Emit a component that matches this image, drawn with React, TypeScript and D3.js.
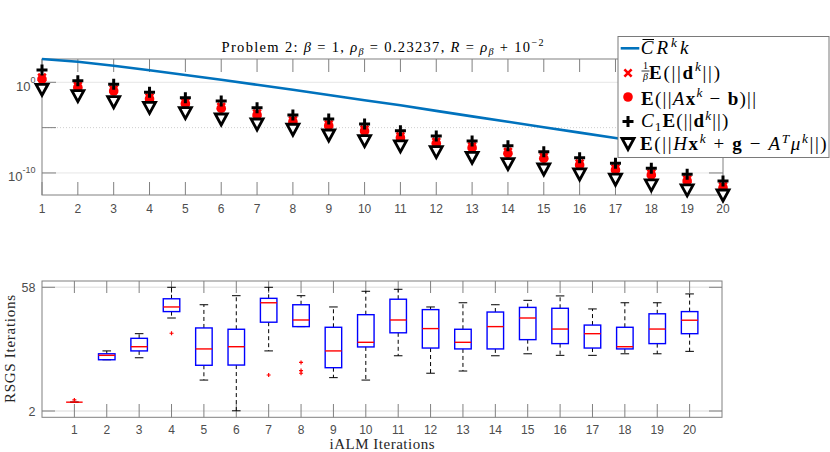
import React from "react";
import { scaleLinear, scaleLog, line } from "d3";

// iterations k
const iters = [1, 2, 3, 4, 5, 6, 7, 8, 9, 10, 11, 12, 13, 14, 15, 16, 17, 18, 19, 20];

// top panel, values given as log10
const crkLog = [2.57, 2.26, 1.82, 1.33, 0.81, 0.28, -0.27, -0.83, -1.4, -1.97, -2.54, -3.15, -3.76, -4.35, -4.95, -5.55, -6.14, -6.74, -7.34, -7.94];
const dScaledLog = [0.36, -0.55, -0.96, -1.84, -2.36, -2.87, -3.6, -4.34, -4.78, -5.37, -6.11, -6.73, -7.21, -7.83, -8.38, -9.12, -9.67, -10.22, -10.88, -11.62];
const residLog = [0.36, -0.55, -0.96, -1.84, -2.36, -2.87, -3.6, -4.34, -4.78, -5.37, -6.11, -6.73, -7.21, -7.83, -8.38, -9.12, -9.67, -10.22, -10.88, -11.62];
const c1dLog = [1.36, 0.18, -0.22, -1.1, -1.7, -2.06, -2.8, -3.61, -4.05, -4.6, -5.34, -5.92, -6.47, -6.99, -7.65, -8.31, -8.93, -9.48, -10.14, -10.88];
const kktLog = [-0.77, -1.47, -2.14, -2.76, -3.35, -4.05, -4.6, -5.18, -5.81, -6.44, -7.02, -7.65, -8.27, -8.97, -9.56, -10.11, -10.69, -11.32, -11.87, -12.43];
const topYTicks = [0, -5, -10];
const topYLabels = ["0", "", "-10"];

// bottom panel, RSGS iterations box statistics
const boxLow = [6, 25.2, 26.1, 44.1, 16.0, 2.1, 29.2, 40.2, 17.1, 16.0, 27.0, 19.1, 20.1, 27.0, 27.9, 27.2, 27.2, 27.9, 27.9, 29.0];
const boxQ1 = [6, 25.2, 29.2, 47.0, 22.7, 22.8, 42.2, 40.2, 21.6, 31.0, 37.4, 30.5, 30.1, 30.1, 34.3, 32.5, 30.5, 30.1, 32.5, 37.0];
const boxMed = [6, 27.2, 31.1, 49.1, 30.1, 31.1, 51.0, 43.2, 29.2, 33.1, 43.2, 39.3, 33.1, 40.2, 44.1, 39.1, 37.0, 31.1, 39.1, 43.1];
const boxQ3 = [6, 27.9, 34.9, 52.8, 39.6, 39.0, 53.0, 50.1, 39.9, 45.6, 52.6, 47.9, 39.0, 46.8, 48.9, 48.5, 40.9, 39.9, 46.0, 47.0];
const boxHigh = [6, 29.2, 37.0, 58.0, 50.1, 54.2, 58.0, 54.2, 49.1, 56.2, 57.1, 49.1, 51.0, 50.1, 52.1, 54.1, 48.2, 51.0, 51.0, 55.0];
const outlierK = [1, 4, 7, 8, 8, 8];
const outlierV = [7, 37.2, 18.3, 24.0, 20.3, 19.1];
const botYTicks = [2, 58];

const serif = "'Liberation Serif', 'DejaVu Serif', serif";
const sans = "'Liberation Sans', Arial, sans-serif";
const axisCol = "#808080";
const tickTxt = "#4d4d4d";
const gridCol = "#e6e6e6";

type Part = { t: string; i?: boolean; b?: boolean; s?: "sup" | "sub" };

function MathSpans({ parts, size }: { parts: Part[]; size: number }) {
  let cur = 0;
  return (
    <>
      {parts.map((p, idx) => {
        const shift = p.s === "sup" ? -0.38 * size : p.s === "sub" ? 0.22 * size : 0;
        const dy = shift - cur;
        cur = shift;
        return (
          <tspan
            key={idx}
            dy={dy}
            fontSize={p.s ? size * 0.7 : size}
            fontStyle={p.i ? "italic" : "normal"}
            fontWeight={p.b ? "bold" : "normal"}
          >
            {p.t}
          </tspan>
        );
      })}
    </>
  );
}

function Plus({ x, y, r, w, c }: { x: number; y: number; r: number; w: number; c: string }) {
  return (
    <path d={`M${x - r},${y}H${x + r}M${x},${y - r}V${y + r}`} stroke={c} strokeWidth={w} fill="none" />
  );
}

function Cross({ x, y, r, c }: { x: number; y: number; r: number; c: string }) {
  return (
    <path d={`M${x - r},${y - r}L${x + r},${y + r}M${x - r},${y + r}L${x + r},${y - r}`} stroke={c} strokeWidth={2.6} fill="none" />
  );
}

function TriDown({ x, y }: { x: number; y: number }) {
  return (
    <path d={`M${x - 6},${y - 5}L${x + 6},${y - 5}L${x},${y + 6}Z`} stroke="#000" strokeWidth={2.8} fill="#fff" strokeLinejoin="miter" />
  );
}

export default function App() {
  // top axes
  const tx = scaleLinear().domain([1, 20]).range([42, 723]);
  const ty = scaleLog().domain([Math.pow(10, -12.43), Math.pow(10, 2.57)]).range([195, 59]);
  const tyl = (v: number) => ty(Math.pow(10, v));
  const crkPath = line<number>()
    .x((_, i) => tx(iters[i]))
    .y((d) => tyl(d))(crkLog);

  // bottom axes
  const bx = scaleLinear().domain([0, 21]).range([42, 722]);
  const by = scaleLinear().domain([-0.85, 60.85]).range([417.3, 281]);
  const boxW = bx(0.51) - bx(0);
  const capW = boxW * 0.52;

  const legendRows = [48.3, 73, 97, 121.5, 143.5];

  return (
    <div style={{ position: "fixed", left: 0, top: 0 }}>
      <svg width={830} height={452} style={{ display: "block", background: "#fff" }}>
        {/* ===== top panel ===== */}
        {topYTicks.map((t, i) => (
          <line
            key={`tg${i}`}
            x1={42}
            x2={723}
            y1={tyl(t)}
            y2={tyl(t)}
            stroke={t === -5 ? "#cfcfcf" : gridCol}
            strokeWidth={1}
            strokeDasharray={t === -5 ? "1,2" : undefined}
          />
        ))}
        {iters.map((k) => (
          <g key={`tt${k}`} stroke={axisCol} strokeWidth={1}>
            <line x1={tx(k)} x2={tx(k)} y1={59} y2={72} />
            <line x1={tx(k)} x2={tx(k)} y1={195} y2={182} />
          </g>
        ))}
        {topYTicks.map((t, i) => (
          <g key={`tyt${i}`} stroke={axisCol} strokeWidth={1}>
            <line x1={42} x2={56} y1={tyl(t)} y2={tyl(t)} />
            <line x1={723} x2={709} y1={tyl(t)} y2={tyl(t)} />
          </g>
        ))}
        <rect x={42} y={59} width={681} height={136} fill="none" stroke={axisCol} strokeWidth={1} />
        {iters.map((k) => (
          <text key={`txl${k}`} x={tx(k)} y={213.3} textAnchor="middle" fontFamily={sans} fontSize={12} fill={tickTxt}>
            {k}
          </text>
        ))}
        {topYTicks.map((t, i) =>
          topYLabels[i] ? (
            <text key={`tyl${i}`} x={35.5} y={tyl(t) + 8.5} textAnchor="end" fontFamily={sans} fill={tickTxt} style={{ whiteSpace: "pre" }}>
              <tspan fontSize={13}>10</tspan>
              <tspan fontSize={9} dy={-8}>{topYLabels[i]}</tspan>
            </text>
          ) : null
        )}

        {/* title */}
        <text x={382.5} y={52} textAnchor="middle" fontFamily={serif} fill="#000" textLength={322} lengthAdjust="spacing" style={{ whiteSpace: "pre" }}>
          <MathSpans
            size={14.5}
            parts={[
              { t: "Problem 2: " },
              { t: "β", i: true },
              { t: " = 1, " },
              { t: "ρ", i: true },
              { t: "β", i: true, s: "sub" },
              { t: " = 0.23237, " },
              { t: "R", i: true },
              { t: " = " },
              { t: "ρ", i: true },
              { t: "β", i: true, s: "sub" },
              { t: " + 10" },
              { t: "−2", s: "sup" },
            ]}
          />
        </text>

        {/* series */}
        <path d={crkPath ?? ""} fill="none" stroke="#0072bd" strokeWidth={2.6} />
        {dScaledLog.map((v, i) => (
          <Cross key={`cx${i}`} x={tx(iters[i])} y={tyl(v) - 1.5} r={3.8} c="#ff0000" />
        ))}
        {residLog.map((v, i) => (
          <circle key={`rd${i}`} cx={tx(iters[i])} cy={tyl(v)} r={4.8} fill="#ff0000" />
        ))}
        {c1dLog.map((v, i) => (
          <Plus key={`pl${i}`} x={tx(iters[i])} y={tyl(v)} r={5.5} w={3} c="#000" />
        ))}
        {kktLog.map((v, i) => (
          <TriDown key={`tr${i}`} x={tx(iters[i])} y={tyl(v)} />
        ))}

        {/* legend */}
        <rect x={618} y={36.5} width={211} height={121} fill="#fff" stroke="#7a7a7a" strokeWidth={1} />
        <line x1={620.7} x2={639.3} y1={legendRows[0]} y2={legendRows[0]} stroke="#0072bd" strokeWidth={2.6} />
        <Cross x={628} y={legendRows[1]} r={3.6} c="#ff0000" />
        <circle cx={628} cy={legendRows[2]} r={4.8} fill="#ff0000" />
        <Plus x={628} y={legendRows[3]} r={5.5} w={3} c="#000" />
        <TriDown x={628} y={legendRows[4]} />

        <line x1={642.5} x2={654} y1={39.5} y2={39.5} stroke="#000" strokeWidth={1} />
        <text x={640.7} y={54} fontFamily={serif} fill="#000" textLength={47.7} lengthAdjust="spacing" style={{ whiteSpace: "pre" }}>
          <MathSpans size={19} parts={[{ t: "C", i: true }, { t: "R", i: true }, { t: "k", i: true, s: "sup" }, { t: "k", i: true }]} />
        </text>

        <text x={645.5} y={68.5} textAnchor="middle" fontFamily={serif} fontSize={10} fill="#000">1</text>
        <line x1={641.5} x2={649.5} y1={71} y2={71} stroke="#000" strokeWidth={0.8} />
        <text x={645.5} y={79.5} textAnchor="middle" fontFamily={serif} fontSize={10} fontStyle="italic" fill="#000">β</text>
        <text x={649} y={78.5} fontFamily={serif} fill="#000" textLength={71} lengthAdjust="spacing" style={{ whiteSpace: "pre" }}>
          <MathSpans size={19} parts={[{ t: "E", b: true }, { t: "(||" }, { t: "d", b: true }, { t: "k", i: true, s: "sup" }, { t: "||)" }]} />
        </text>

        <text x={641} y={104.5} fontFamily={serif} fill="#000" textLength={115} lengthAdjust="spacing" style={{ whiteSpace: "pre" }}>
          <MathSpans
            size={19}
            parts={[
              { t: "E", b: true },
              { t: "(||" },
              { t: "A", i: true },
              { t: "x", b: true },
              { t: "k", i: true, s: "sup" },
              { t: " − " },
              { t: "b", b: true },
              { t: ")||" },
            ]}
          />
        </text>

        <text x={641} y={127} fontFamily={serif} fill="#000" textLength={87.3} lengthAdjust="spacing" style={{ whiteSpace: "pre" }}>
          <MathSpans
            size={19}
            parts={[
              { t: "C", i: true },
              { t: "1", s: "sub" },
              { t: "E", b: true },
              { t: "(||" },
              { t: "d", b: true },
              { t: "k", i: true, s: "sup" },
              { t: "||)" },
            ]}
          />
        </text>

        <text x={640} y={150} fontFamily={serif} fill="#000" textLength={186.7} lengthAdjust="spacing" style={{ whiteSpace: "pre" }}>
          <MathSpans
            size={19}
            parts={[
              { t: "E", b: true },
              { t: "(||" },
              { t: "H", i: true },
              { t: "x", b: true },
              { t: "k", i: true, s: "sup" },
              { t: " + " },
              { t: "g", b: true },
              { t: " − " },
              { t: "A", i: true },
              { t: "T", i: true, s: "sup" },
              { t: "μ", i: true },
              { t: "k", i: true, s: "sup" },
              { t: "||)" },
            ]}
          />
        </text>

        {/* ===== bottom panel ===== */}
        {botYTicks.map((t) => (
          <line key={`bg${t}`} x1={42} x2={722} y1={by(t)} y2={by(t)} stroke={gridCol} strokeWidth={1.5} />
        ))}
        {iters.map((k) => (
          <g key={`bt${k}`} stroke={axisCol} strokeWidth={1}>
            <line x1={bx(k)} x2={bx(k)} y1={281} y2={293} />
            <line x1={bx(k)} x2={bx(k)} y1={417.3} y2={404} />
          </g>
        ))}
        {botYTicks.map((t) => (
          <g key={`byt${t}`} stroke={axisCol} strokeWidth={1}>
            <line x1={42} x2={55} y1={by(t)} y2={by(t)} />
            <line x1={722} x2={709} y1={by(t)} y2={by(t)} />
          </g>
        ))}
        <rect x={42} y={281} width={680} height={136.3} fill="none" stroke={axisCol} strokeWidth={1} />
        {iters.map((k) => (
          <text key={`bxl${k}`} x={bx(k)} y={434.3} textAnchor="middle" fontFamily={sans} fontSize={12} fill={tickTxt}>
            {k}
          </text>
        ))}
        {botYTicks.map((t) => (
          <text key={`byl${t}`} x={35.5} y={by(t) + 4.5} textAnchor="end" fontFamily={sans} fontSize={12.5} fill={tickTxt}>
            {t}
          </text>
        ))}

        {iters.map((k, i) => {
          const cx = bx(k);
          return (
            <g key={`box${k}`}>
              <line x1={cx} x2={cx} y1={by(boxQ3[i])} y2={by(boxHigh[i])} stroke="#000" strokeWidth={1} strokeDasharray="4,3" />
              <line x1={cx} x2={cx} y1={by(boxQ1[i])} y2={by(boxLow[i])} stroke="#000" strokeWidth={1} strokeDasharray="4,3" />
              <line x1={cx - capW / 2} x2={cx + capW / 2} y1={by(boxHigh[i])} y2={by(boxHigh[i])} stroke="#000" strokeWidth={1} />
              <line x1={cx - capW / 2} x2={cx + capW / 2} y1={by(boxLow[i])} y2={by(boxLow[i])} stroke="#000" strokeWidth={1} />
              <rect
                x={cx - boxW / 2}
                y={by(boxQ3[i])}
                width={boxW}
                height={Math.max(0, by(boxQ1[i]) - by(boxQ3[i]))}
                fill="none"
                stroke="#0000ff"
                strokeWidth={1.4}
              />
              <line x1={cx - boxW / 2} x2={cx + boxW / 2} y1={by(boxMed[i])} y2={by(boxMed[i])} stroke="#ff0000" strokeWidth={1.4} />
            </g>
          );
        })}
        {outlierK.map((k, i) => (
          <Plus key={`ol${i}`} x={bx(k)} y={by(outlierV[i])} r={2} w={1.2} c="#ff0000" />
        ))}

        <text
          transform="translate(14.5,349) rotate(-90)"
          textAnchor="middle"
          fontFamily={serif}
          fontSize={15}
          fill="#262626"
          textLength={108}
          lengthAdjust="spacing"
        >
          RSGS Iterations
        </text>
        <text x={382} y={449} textAnchor="middle" fontFamily={serif} fontSize={15} fill="#262626" textLength={105} lengthAdjust="spacing">
          iALM Iterations
        </text>
      </svg>
    </div>
  );
}
